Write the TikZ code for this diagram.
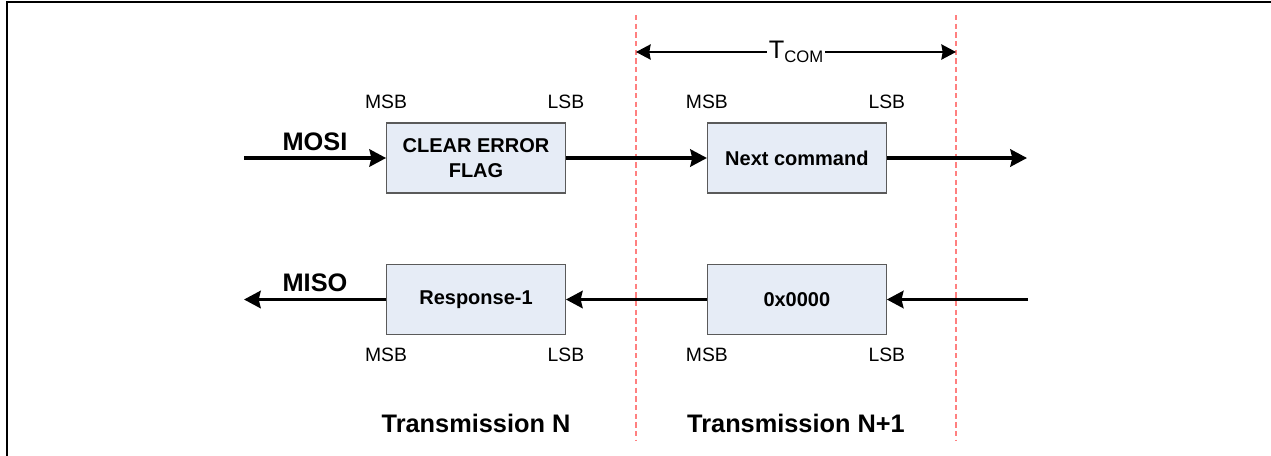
\documentclass[tikz,border=0pt]{standalone}
\usepackage{fontspec}
\setmainfont{Liberation Sans}
\usetikzlibrary{positioning,arrows.meta}
\definecolor{WordFill}{HTML}{E6ECF6}
\definecolor{WordLine}{HTML}{5A5A5A}
\definecolor{SliceRed}{HTML}{FF8080}

\begin{document}
\begin{tikzpicture}[x=0.75pt,y=-0.75pt,node distance=105.75pt,
  >={Stealth[length=12.5pt,width=13pt,inset=1.5pt]}]
  \tikzstyle{word}=[draw=WordLine,fill=WordFill,line width=0.9pt,
    minimum width=134pt,minimum height=52.5pt,inner sep=0pt,align=center,
    font=\fontsize{15}{18.5}\selectfont\bfseries]
  \tikzstyle{bit}=[inner sep=0pt,font=\fontsize{14.5}{16}\selectfont]
  \tikzstyle{sig}=[inner sep=0pt,font=\fontsize{19}{21}\selectfont\bfseries]
  \tikzstyle{bus}=[->,line width=2.5pt]
  \tikzstyle{slice}=[draw=SliceRed,line width=1pt,dash pattern=on 4pt off 2.5pt]
  \useasboundingbox (0,0) rectangle (1271,455);
  \draw[line width=0.9pt] (7,470) -- (7,2) -- (1285,2);

  % frames of the two transmissions
  \coordinate (s1t) at (636,15);
  \coordinate (s1b) at (636,440);
  \coordinate (s2t) at (956,15);
  \coordinate (s2b) at (956,440);
  \draw[slice] (s1t) -- (s1b);
  \draw[slice] (s2t) -- (s2b);
  \coordinate (tl) at (636,52);
  \coordinate (tr) at (956,52);
  \draw[<->,line width=1.2pt,>={Stealth[length=11pt,width=11.5pt,inset=1pt]}]
    (tl) -- (tr) node[midway,fill=white,inner sep=1.5pt,font=\fontsize{19}{21}\selectfont]
    {T\raisebox{-2.5pt}{\fontsize{12.5}{14}\selectfont COM}};

  % data words
  \node[word] (clr) at (476,158) {CLEAR ERROR\\FLAG};
  \node[word,right=of clr] (nxt) {Next command};
  \node[word] (rsp) at (476,299.5) {Response-1};
  \node[word,right=of rsp] (zro) {0x0000};

  \node[bit,above=10pt of clr.north west] (clrm) {MSB};
  \node[bit,above=10pt of clr.north east] (clrl) {LSB};
  \node[bit,above=10pt of nxt.north west] (nxtm) {MSB};
  \node[bit,above=10pt of nxt.north east] (nxtl) {LSB};
  \node[bit,below=9.5pt of rsp.south west] (rspm) {MSB};
  \node[bit,below=9.5pt of rsp.south east] (rspl) {LSB};
  \node[bit,below=9.5pt of zro.south west] (zrom) {MSB};
  \node[bit,below=9.5pt of zro.south east] (zrol) {LSB};

  % lines
  \coordinate (mosiin) at (244,158);
  \coordinate (mosiout) at (1027,158);
  \coordinate (misoin) at (1028,299.5);
  \coordinate (misoout) at (244,299.5);
  \node[sig] (mosi) at (315,141.5) {MOSI};
  \node[sig] (miso) at (315,283) {MISO};
  \draw[bus] (mosiin) -- (clr);
  \draw[bus] (clr) -- (nxt);
  \draw[bus] (nxt) -- (mosiout);
  \draw[bus] (misoin) -- (zro);
  \draw[bus] (zro) -- (rsp);
  \draw[bus] (rsp) -- (misoout);

  \node[sig] (trn) at (476,423) {Transmission N};
  \node[sig] (trn1) at (796,423) {Transmission N+1};
\end{tikzpicture}
\end{document}
